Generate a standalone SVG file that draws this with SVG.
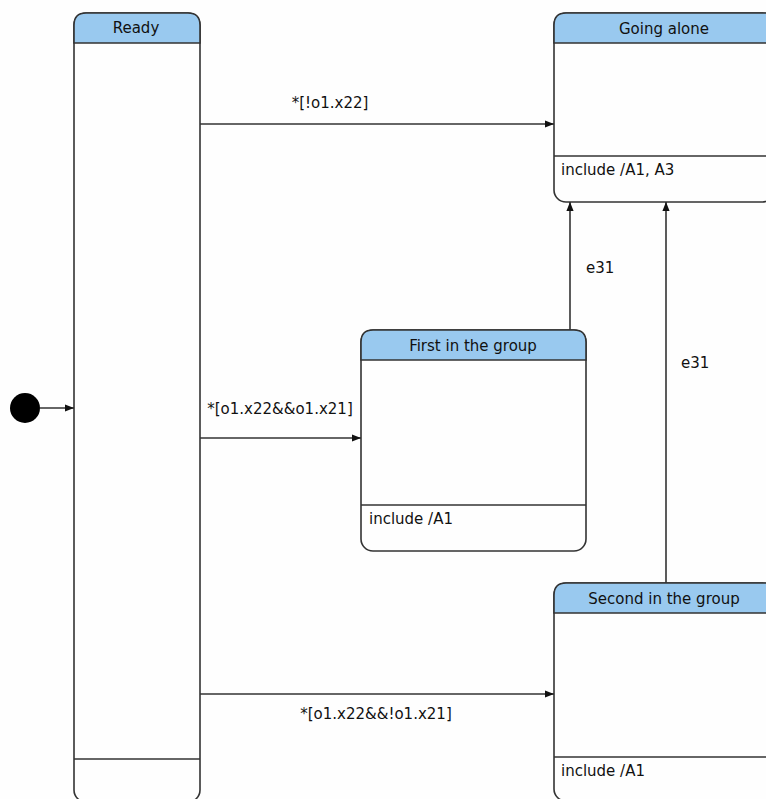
<svg xmlns="http://www.w3.org/2000/svg" width="766" height="799" viewBox="0 0 766 799">
<style>
.box{fill:#fefefe;stroke:#333;stroke-width:1.6}
.hdr{fill:#99c9ef;stroke:#333;stroke-width:1.6}
.ln{stroke:#333;stroke-width:1.6;fill:none}
text{font-family:"DejaVu Sans",sans-serif;font-size:15px;fill:#111}
.c{text-anchor:middle}
</style>
<defs>
<marker id="ah" viewBox="0 0 10 10" refX="10" refY="5" markerWidth="9" markerHeight="9" markerUnits="userSpaceOnUse" orient="auto">
<path d="M0,1 L10,5 L0,9 z" fill="#111"/>
</marker>
</defs>
<rect width="766" height="799" fill="#fefefe"/>
<g id="ready">
<rect class="box" x="74" y="13" width="126" height="789" rx="12"/>
<path class="hdr" d="M74,43 V25 Q74,13 86,13 H188 Q200,13 200,25 V43 Z"/>
<line class="ln" x1="74" y1="759" x2="200" y2="759"/>
<text class="c" x="136" y="33">Ready</text>
</g>
<g id="going-alone">
<rect class="box" x="554" y="13" width="220" height="189" rx="12"/>
<path class="hdr" d="M554,43 V25 Q554,13 566,13 H774 V43 Z"/>
<line class="ln" x1="554" y1="156" x2="774" y2="156"/>
<text class="c" x="664" y="34">Going alone</text>
<text x="561" y="175">include /A1, A3</text>
</g>
<g id="first-in-group">
<rect class="box" x="361" y="330" width="225" height="221" rx="12"/>
<path class="hdr" d="M361,360 V342 Q361,330 373,330 H574 Q586,330 586,342 V360 Z"/>
<line class="ln" x1="361" y1="505" x2="586" y2="505"/>
<text class="c" x="473" y="351">First in the group</text>
<text x="369" y="524">include /A1</text>
</g>
<g id="second-in-group">
<rect class="box" x="554" y="583" width="220" height="218" rx="12"/>
<path class="hdr" d="M554,613 V595 Q554,583 566,583 H774 V613 Z"/>
<line class="ln" x1="554" y1="757" x2="774" y2="757"/>
<text class="c" x="664" y="604">Second in the group</text>
<text x="561" y="776">include /A1</text>
</g>
<g id="initial">
<circle cx="25" cy="408" r="15" fill="#000"/>
</g>
<g id="connectors">
<line class="ln" x1="40" y1="408" x2="74" y2="408" marker-end="url(#ah)"/>
<line class="ln" x1="200" y1="124" x2="554" y2="124" marker-end="url(#ah)"/>
<text class="c" x="330" y="108">*[!o1.x22]</text>
<line class="ln" x1="200" y1="438" x2="361" y2="438" marker-end="url(#ah)"/>
<text class="c" x="280" y="414">*[o1.x22&amp;&amp;o1.x21]</text>
<line class="ln" x1="200" y1="694" x2="554" y2="694" marker-end="url(#ah)"/>
<text class="c" x="376" y="719">*[o1.x22&amp;&amp;!o1.x21]</text>
<line class="ln" x1="570" y1="330" x2="570" y2="202" marker-end="url(#ah)"/>
<text x="586" y="273">e31</text>
<line class="ln" x1="666" y1="583" x2="666" y2="202" marker-end="url(#ah)"/>
<text x="681" y="368">e31</text>
</g>
</svg>
